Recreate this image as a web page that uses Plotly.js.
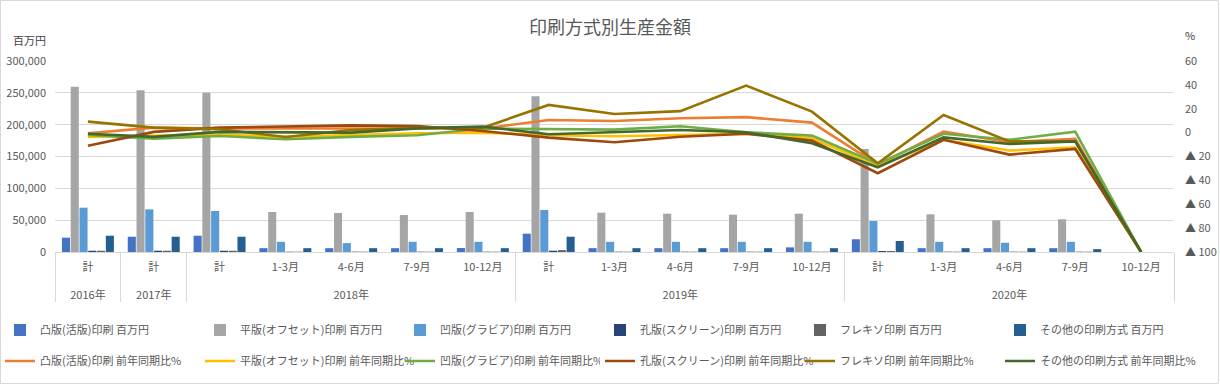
<!DOCTYPE html>
<html>
<head>
<meta charset="utf-8">
<script src="https://cdn.plot.ly/plotly-3.0.1.min.js"></script>
<style>html,body{margin:0;padding:0;background:#fff;}#chart{width:1220px;height:385px;}</style>
</head>
<body>
<div id="chart"></div>
<script>
// ---- data ----
const years = ['2016年','2017年','2018年','2018年','2018年','2018年','2018年','2019年','2019年','2019年','2019年','2019年','2020年','2020年','2020年','2020年','2020年'];
const periods = ['計','計','計','1-3月','4-6月','7-9月','10-12月','計','1-3月','4-6月','7-9月','10-12月','計','1-3月','4-6月','7-9月','10-12月'];

// 生産金額 (百万円)
const letterpressAmt = [22500, 24000, 25600, 6000, 6000, 6000, 6200, 28800, 6000, 6000, 6000, 7300, 20000, 6000, 6000, 6000, null];
const offsetAmt      = [259700, 254000, 250300, 62800, 61300, 58100, 62800, 244600, 61800, 60200, 58600, 60200, 161800, 59200, 49800, 51400, null];
const gravureAmt     = [69600, 67000, 64400, 16000, 14000, 16000, 16000, 66000, 16000, 16000, 16000, 16000, 48700, 16000, 14500, 16000, null];
const screenAmt      = [2000, 2000, 2000, 500, 500, 500, 500, 2000, 500, 500, 500, 500, 1500, 500, 500, 500, null];
const flexoAmt       = [2000, 2000, 2000, 500, 500, 500, 500, 3000, 500, 500, 500, 500, 1500, 500, 500, 500, null];
const otherAmt       = [25600, 24000, 24000, 6000, 6000, 6000, 6000, 24000, 6000, 6000, 6000, 6000, 17300, 6000, 6000, 4500, null];

// 前年同期比 (%)
const letterpressPct = [-0.5, 4.2, 3.5, 3.4, 3.4, 3, 3.5, 10.6, 9.8, 12, 13, 8.4, -27, 0.8, -8, -5.3, -100];
const offsetPct      = [-3.6, -2.8, -1.7, -3.4, -1.7, -0.5, 0, -2.2, -3, -2, -1, -4.7, -28, -6, -15, -12.3, -100];
const gravurePct     = [-2, -5, -2.8, -5.6, -3.6, -2.2, 3.4, 2.8, 2.5, 5.3, 0.3, -2.5, -26, -1, -6, 0.8, -100];
const screenPct      = [-11, 0.6, 4.2, 5, 6.1, 5.6, 1.4, -4.2, -8, -3.4, -1, -6.7, -34, -6, -18.4, -13.7, -100];
const flexoPct       = [9.2, 4.2, 2.8, -3.6, 2.2, 4, 4.2, 23.2, 15.6, 18, 39.4, 17.6, -25.7, 14.8, -7.3, -7.3, -100];
const otherPct       = [-1, -3.6, 0.6, 0, 0, 3.6, 5, -1.4, 0.3, 2.2, 0.3, -8.9, -29, -4, -9.5, -7.3, -100];

const barNames  = ['凸版(活版)印刷 百万円','平版(オフセット)印刷 百万円','凹版(グラビア)印刷 百万円','孔版(スクリーン)印刷 百万円','フレキソ印刷 百万円','その他の印刷方式 百万円'];
const lineNames = ['凸版(活版)印刷 前年同期比%','平版(オフセット)印刷 前年同期比%','凹版(グラビア)印刷 前年同期比%','孔版(スクリーン)印刷 前年同期比%','フレキソ印刷 前年同期比%','その他の印刷方式 前年同期比%'];

const leftTickVals = [0, 50000, 100000, 150000, 200000, 250000, 300000];
const rightTickVals = [-100, -80, -60, -40, -20, 0, 20, 40, 60];
const rightTickText = ['▲ 100','▲ 80','▲ 60','▲ 40','▲ 20','0','20','40','60'];

// ---- styling ----
const barColors  = ['#4472C4','#A5A5A5','#5B9BD5','#264478','#636363','#255E91'];
const lineColors = ['#ED7D31','#FFC000','#70AD47','#9E480E','#997300','#43682B'];
const txt = '#595959';
const FONT = '"Noto Sans CJK JP", "Noto Sans", sans-serif';

const amtSeries = [letterpressAmt, offsetAmt, gravureAmt, screenAmt, flexoAmt, otherAmt];
const pctSeries = [letterpressPct, offsetPct, gravurePct, screenPct, flexoPct, otherPct];
// outer level gets a leading line break so the year row sits lower, as in the original
const xCats = [years.map(y => '<br>' + y), periods];

const traces = [];
amtSeries.forEach((s, i) => {
  traces.push({
    type: 'bar', x: xCats, y: s, name: barNames[i],
    marker: {color: barColors[i]}, yaxis: 'y', legend: i < 3 ? 'legend' : 'legend3'
  });
});
pctSeries.forEach((s, i) => {
  traces.push({
    type: 'scatter', mode: 'lines', x: xCats, y: s, name: lineNames[i],
    line: {color: lineColors[i], width: 2.6}, yaxis: 'y2', legend: i < 3 ? 'legend2' : 'legend4'
  });
});

const L = 55, R = 46, T = 61, B = 133;
const plotW = 1220 - L - R, plotH = 385 - T - B;
const px = X => (X - L) / plotW;
const py = Y => (385 - B - Y) / plotH;

const legBase = {orientation: 'h', xanchor: 'left', yanchor: 'top',
  entrywidth: 155, entrywidthmode: 'pixels', font: {family: FONT, size: 11, color: txt},
  bgcolor: 'rgba(0,0,0,0)', traceorder: 'normal'};

const layout = {
  width: 1220, height: 385,
  margin: {l: L, r: R, t: T, b: B, autoexpand: false},
  paper_bgcolor: '#fff', plot_bgcolor: '#fff',
  font: {family: FONT, size: 11, color: txt},
  title: {text: '印刷方式別生産金額', x: 0.5, xref: 'container', xanchor: 'center',
          y: 1 - 28/385, yref: 'container', yanchor: 'middle',
          font: {family: FONT, size: 18, color: txt}},
  barmode: 'group', bargap: 0.2, bargroupgap: 0.08,
  xaxis: {
    type: 'multicategory', showdividers: true, dividercolor: '#d9d9d9', dividerwidth: 1,
    showline: true, linecolor: '#d9d9d9', linewidth: 1, ticks: '', showgrid: false,
    ticklabelstandoff: 5,
    tickfont: {family: FONT, size: 11, color: txt}, automargin: false
  },
  yaxis: {
    range: [0, 300000], tickvals: leftTickVals, tickformat: ',', showgrid: true, gridcolor: '#d9d9d9',
    zeroline: false, showline: false, ticks: '', ticklabelstandoff: 8,
    tickfont: {family: FONT, size: 11, color: txt}, automargin: false
  },
  yaxis2: {
    overlaying: 'y', side: 'right', range: [-100, 60], tickvals: rightTickVals, ticktext: rightTickText,
    showgrid: false, zeroline: false, showline: false, ticks: '', ticklabelstandoff: 10,
    tickfont: {family: FONT, size: 11, color: txt}, automargin: false
  },
  legend:  Object.assign({}, legBase, {x: px(0),   y: py(315.5)}),
  legend3: Object.assign({}, legBase, {x: px(600), y: py(315.5)}),
  legend2: Object.assign({}, legBase, {x: px(0),   y: py(346.5)}),
  legend4: Object.assign({}, legBase, {x: px(600), y: py(346.5)}),
  annotations: [
    {text: '百万円', xref: 'paper', yref: 'paper', x: px(29), y: py(40), showarrow: false,
     xanchor: 'center', yanchor: 'middle', font: {family: FONT, size: 11, color: '#404040'}},
    {text: '%', xref: 'paper', yref: 'paper', x: px(1190), y: py(35), showarrow: false,
     xanchor: 'center', yanchor: 'middle', font: {family: FONT, size: 11, color: '#404040'}}
  ],
  shapes: [
    {type: 'rect', xref: 'paper', yref: 'paper', x0: px(0.5), x1: px(1218.5), y0: py(383.5), y1: py(0.5),
     line: {color: '#d9d9d9', width: 1}, fillcolor: 'rgba(0,0,0,0)', layer: 'below'}
  ],
  showlegend: true
};

Plotly.newPlot('chart', traces, layout, {displayModeBar: false, staticPlot: true});
</script>
</body>
</html>
